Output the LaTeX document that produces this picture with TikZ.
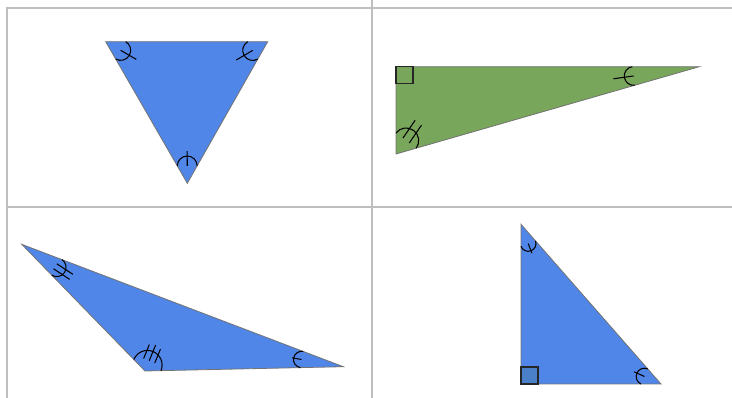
\documentclass[tikz,border=0pt]{standalone}
\usetikzlibrary{calc}
\definecolor{triblue}{RGB}{80,134,232}
\definecolor{trigreen}{RGB}{120,166,91}
\definecolor{sqblue}{RGB}{74,128,200}
\definecolor{edgegray}{RGB}{115,115,115}
\definecolor{gridgray}{RGB}{190,190,190}
\tikzset{
  tri/.style={draw=edgegray, line width=0.8pt, line join=miter},
  mk/.style={draw=black, line width=1.05pt},
  gridline/.style={draw=gridgray, line width=1.2pt},
  rtsq/.style={draw=black!85, line width=1.1pt},
}
\newcommand\angmark[5]{%
  \coordinate (amE1) at ($(#1)!#4pt!(#2)$);
  \coordinate (amE2) at ($(#1)!#4pt!(#3)$);
  \coordinate (amM) at ($(amE1)!0.5!(amE2)$);
  \pgfmathanglebetweenpoints{\pgfpointanchor{#1}{center}}{\pgfpointanchor{amM}{center}}%
  \let\AMang\pgfmathresult
  \pgfpointdiff{\pgfpointanchor{amE1}{center}}{\pgfpointanchor{amM}{center}}%
  \pgfgetlastxy{\AMx}{\AMy}%
  \pgfmathveclen{\AMx}{\AMy}\let\AMrad\pgfmathresult
  \begin{scope}[shift={(amM)},rotate=\AMang]
    \draw[mk] (0,-\AMrad) arc[start angle=-90,end angle=90,radius=\AMrad pt];
    #5
  \end{scope}}
\begin{document}
\begin{tikzpicture}[x=1pt,y=1pt]
\useasboundingbox (0,0) rectangle (732,398);
% grid
\draw[gridline] (7,0) -- (7,390) -- (732,390);
\draw[gridline] (372,0) -- (372,398);
\draw[gridline] (7,191) -- (732,191);
% triangle 1
\coordinate (a1) at (105.7,356.3);
\coordinate (b1) at (267.7,356.3);
\coordinate (c1) at (187.3,214.7);
\filldraw[tri, fill=triblue] (a1) -- (b1) -- (c1) -- cycle;
\angmark{a1}{b1}{c1}{20}{\draw[mk] (0,0) -- (\AMrad+8,0);}
\angmark{b1}{a1}{c1}{20}{\draw[mk] (0,0) -- (\AMrad+9,0);}
\angmark{c1}{a1}{b1}{20}{\draw[mk] (0,0) -- (\AMrad+5,0);}
% triangle 2
\coordinate (g1) at (396,331.3);
\coordinate (g2) at (699.3,331.3);
\coordinate (g3) at (396,244);
\filldraw[tri, fill=trigreen] (g1) -- (g2) -- (g3) -- cycle;
\draw[rtsq] (g1) rectangle ++(17,-17);
\angmark{g2}{g1}{g3}{67}{\draw[mk] (0,0) -- (\AMrad+11,0);}
\angmark{g3}{g1}{g2}{21}{\draw[mk] (0,-4) -- (\AMrad+9,-3); \draw[mk] (0,4) -- (\AMrad+9,5);}
% triangle 3
\coordinate (t1) at (21.7,153.7);
\coordinate (t2) at (145,27);
\coordinate (t3) at (343.3,31.3);
\filldraw[tri, fill=triblue] (t1) -- (t2) -- (t3) -- cycle;
\angmark{t1}{t2}{t3}{43}{\draw[mk] (-2,-3) -- (\AMrad+8,-3); \draw[mk] (-2,3) -- (\AMrad+8,3);}
\angmark{t2}{t1}{t3}{16}{\draw[mk] (\AMrad-10,-6) -- (\AMrad+5,-6); \draw[mk] (\AMrad-10,0) -- (\AMrad+7,0); \draw[mk] (\AMrad-10,6) -- (\AMrad+5,6);}
\angmark{t3}{t1}{t2}{43}{\draw[mk] (\AMrad+1.5,0) -- (\AMrad-8,0);}
% triangle 4
\coordinate (r1) at (521,173.7);
\coordinate (r2) at (521,14);
\coordinate (r3) at (661,14);
\filldraw[tri, fill=triblue] (r1) -- (r2) -- (r3) -- cycle;
\filldraw[rtsq, fill=sqblue] (r2) rectangle ++(17,17);
\angmark{r1}{r2}{r3}{22}{\draw[mk] (0,0) -- (\AMrad+2.5,0);}
\angmark{r3}{r1}{r2}{20}{\draw[mk] (0,0) -- (\AMrad+3,0);}
\end{tikzpicture}
\end{document}
